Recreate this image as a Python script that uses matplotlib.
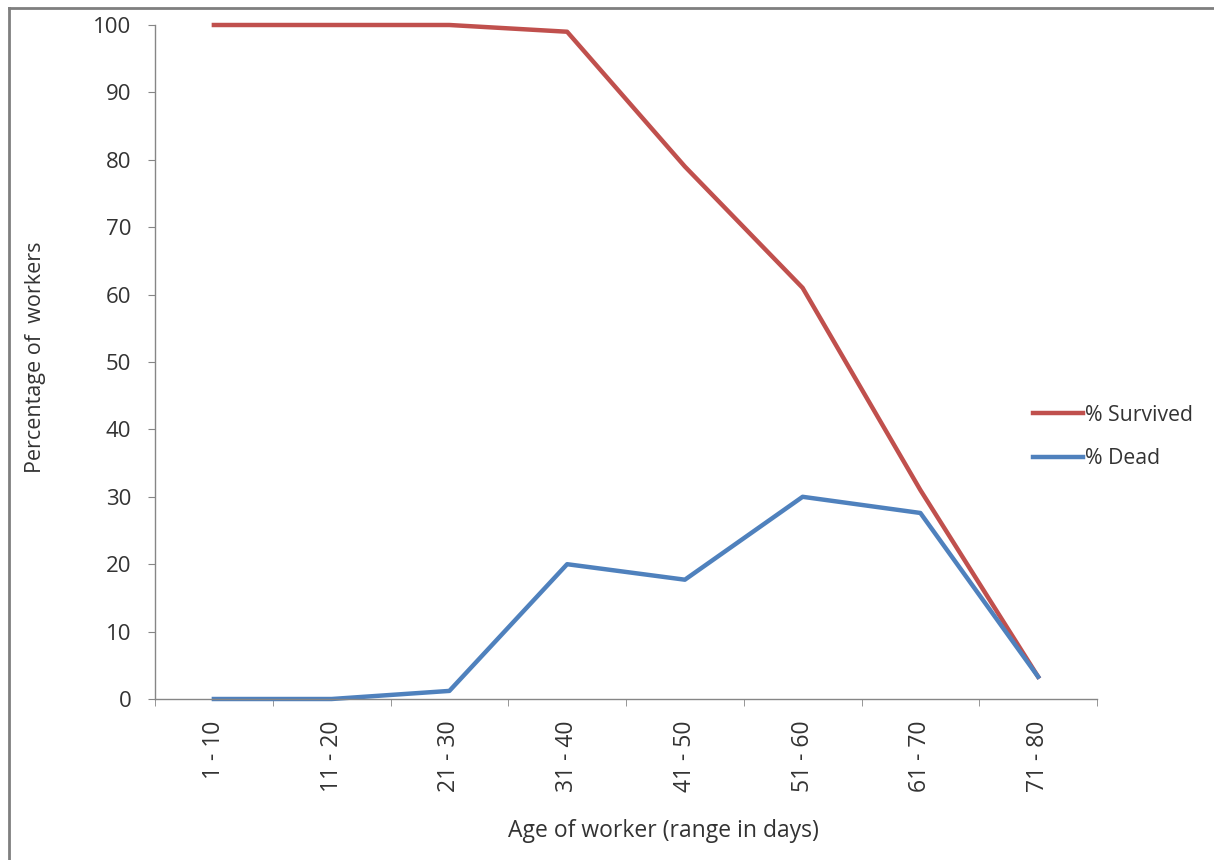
import numpy as np
import matplotlib
matplotlib.use("Agg")
from matplotlib import pyplot as plt
from matplotlib.lines import Line2D

# data
age_ranges = ["1 - 10", "11 - 20", "21 - 30", "31 - 40", "41 - 50", "51 - 60", "61 - 70", "71 - 80"]
survived = [100, 100, 100, 99, 79, 61, 31, 3.3]
dead = [0, 0, 1.2, 20, 17.7, 30, 27.6, 3.3]

plt.rcParams['font.family'] = ['Open Sans', 'DejaVu Sans']
red = "#C0504D"
blue = "#4F81BD"
grey = "#868686"

fig = plt.figure(figsize=(12.14, 8.6), dpi=100)
ax = fig.add_axes([155/1214, 1 - 699/860, (1097 - 155)/1214, (699 - 25)/860])

x = np.arange(len(age_ranges))
ax.plot(x, survived, color=red, lw=3.2, label="% Survived", clip_on=False)
ax.plot(x, dead, color=blue, lw=3.2, label="% Dead", clip_on=False)

ax.set_xlim(-0.5, len(age_ranges) - 0.5)
ax.set_ylim(0, 100)
ax.set_yticks(np.arange(0, 101, 10))
ax.set_xticks(x)
ax.set_xticklabels(age_ranges, rotation=90, fontsize=16.5, color="#333333")
ax.set_xticks(np.arange(-0.5, len(age_ranges), 1), minor=True)
ax.tick_params(axis='x', which='major', length=0, pad=15.5)
ax.tick_params(axis='x', which='minor', length=5, color=grey, direction='out')
ax.tick_params(axis='y', length=5, color=grey, pad=12, labelsize=16, labelcolor="#333333")

for s in ['top', 'right']:
    ax.spines[s].set_visible(False)
for s in ['left', 'bottom']:
    ax.spines[s].set_color(grey)
    ax.spines[s].set_linewidth(1)

fig.text(36/1214, 1 - 357/860, "Percentage of  workers", rotation=90, fontsize=15.5,
         ha='center', va='center', color="#333333")
fig.text(663/1214, 1 - 831/860, "Age of worker (range in days)", fontsize=16.5,
         ha='center', va='center', color="#333333")

ax.legend(loc='center left', bbox_to_anchor=(1033/1214, 1 - 437/860),
          bbox_transform=fig.transFigure, frameon=False, fontsize=15.3,
          handlelength=2.35, handletextpad=0.1, labelspacing=1.05, borderpad=0,
          borderaxespad=0, labelcolor="#333333")

# outer chart border (left and top edges visible)
fig.add_artist(Line2D([8.5/1214, 8.5/1214], [0, 1 - 7.5/860], transform=fig.transFigure,
                      color="#7f7f7f", lw=2))
fig.add_artist(Line2D([8.5/1214, 1], [1 - 7.5/860, 1 - 7.5/860], transform=fig.transFigure,
                      color="#7f7f7f", lw=2))

fig.savefig("out.png", dpi=100)
